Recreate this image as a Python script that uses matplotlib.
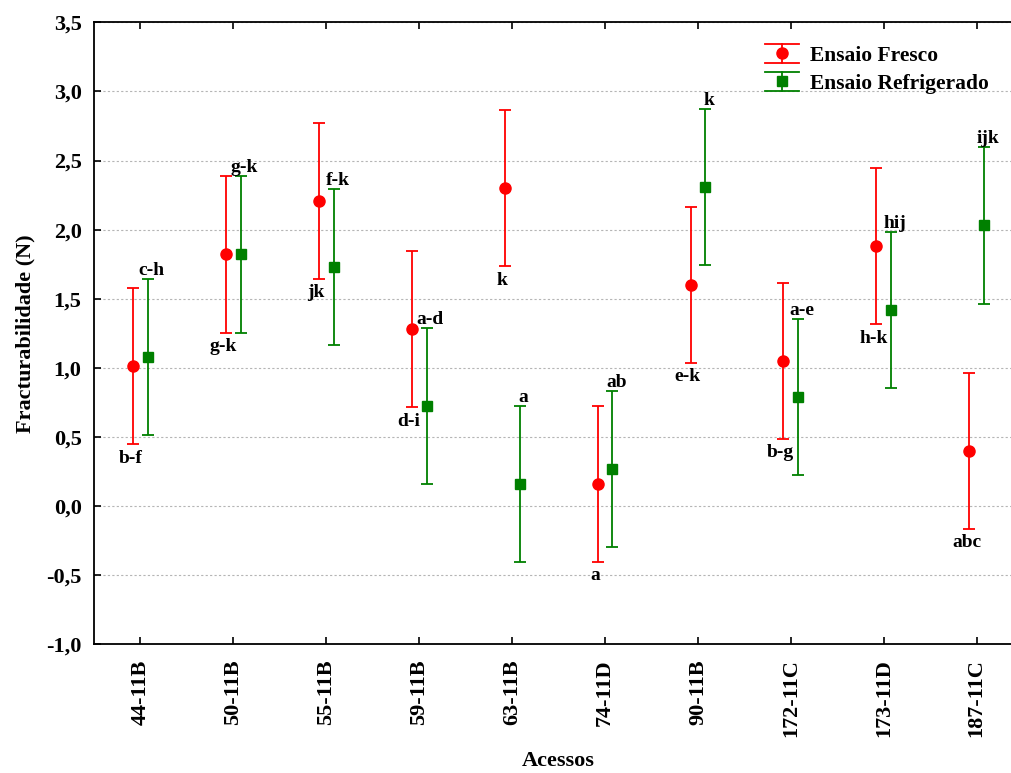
import matplotlib
matplotlib.use("Agg")
import matplotlib.pyplot as plt
from matplotlib.legend_handler import HandlerBase
from matplotlib.lines import Line2D
import numpy as np

acessos = ["44-11B", "50-11B", "55-11B", "59-11B", "63-11B",
           "74-11D", "90-11B", "172-11C", "173-11D", "187-11C"]

# means and half-width of the error bars
fresco_mean = [1.01, 1.82, 2.21, 1.28, 2.30, 0.16, 1.60, 1.05, 1.88, 0.40]
fresco_err = [0.565, 0.565, 0.565, 0.565, 0.565, 0.565, 0.565, 0.565, 0.565, 0.565]
refrig_mean = [1.08, 1.82, 1.73, 0.72, 0.16, 0.27, 2.31, 0.79, 1.42, 2.03]
refrig_err = [0.565, 0.565, 0.565, 0.565, 0.565, 0.565, 0.565, 0.565, 0.565, 0.565]

fresco_letters = ["b-f", "g-k", "jk", "d-i", "k", "a", "e-k", "b-g", "h-k", "abc"]
refrig_letters = ["c-h", "g-k", "f-k", "a-d", "a", "ab", "k", "a-e", "hij", "ijk"]

y_ticks = [-1.0, -0.5, 0.0, 0.5, 1.0, 1.5, 2.0, 2.5, 3.0, 3.5]
y_labels = ["-1,0", "-0,5", "0,0", "0,5", "1,0", "1,5", "2,0", "2,5", "3,0", "3,5"]

plt.rcParams["font.family"] = ["Liberation Serif", "DejaVu Serif"]
plt.rcParams["font.weight"] = "bold"


class StatHandler(HandlerBase):
    # legend key like statistica: wide caps top and bottom, marker in middle
    def create_artists(self, legend, orig, xd, yd, width, height, fontsize, trans):
        c = orig.get_color()
        x0, x1 = -xd, -xd + width
        y0, y1 = -yd, -yd + height
        xm, ym = (x0 + x1) / 2, (y0 + y1) / 2
        arts = [
            Line2D([x0, x1], [y1, y1], color=c, lw=1.3),
            Line2D([x0, x1], [y0, y0], color=c, lw=1.3),
            Line2D([xm, xm], [y0, y1], color=c, lw=1.3),
            Line2D([xm], [ym], marker=orig.get_marker(), color=c,
                   markersize=orig.get_markersize(), linestyle="none"),
        ]
        for a in arts:
            a.set_transform(trans)
        return arts


fig = plt.figure(figsize=(10.11, 7.73), dpi=100)
ax = fig.add_axes([0.093, 0.1669, 0.919, 0.8041])

x = np.arange(len(acessos))
red = "#FF0000"
green = "#008000"

ax.errorbar(x - 0.08, fresco_mean, yerr=fresco_err, fmt="o", color=red,
            ecolor=red, elinewidth=1.3, capsize=4, capthick=1.3,
            markersize=8, zorder=3)
ax.errorbar(x + 0.08, refrig_mean, yerr=refrig_err, fmt="s", color=green,
            ecolor=green, elinewidth=1.3, capsize=4, capthick=1.3,
            markersize=7.5, zorder=3)

# significance letters: fresco below lower cap, refrigerado above upper cap
for i in range(len(acessos)):
    lo = fresco_mean[i] - fresco_err[i]
    ax.annotate(fresco_letters[i], (x[i] - 0.11, lo), xytext=(0, -4),
                textcoords="offset points", ha="center", va="top",
                fontsize=14, fontweight="bold")
    hi = refrig_mean[i] + refrig_err[i]
    ax.annotate(refrig_letters[i], (x[i] + 0.12, hi), xytext=(0, 0),
                textcoords="offset points", ha="center", va="bottom",
                fontsize=14, fontweight="bold")

ax.set_xlim(-0.5, len(acessos) - 0.5)
ax.set_ylim(-1.0, 3.5)
ax.set_yticks(y_ticks)
ax.set_yticklabels(y_labels, fontsize=16, fontweight="bold")
ax.set_xticks(x)
ax.set_xticklabels(acessos, rotation=90, fontsize=16, fontweight="bold")

ax.tick_params(axis="y", direction="in", length=5, width=1.2, pad=9)
ax.tick_params(axis="x", direction="in", length=5, width=1.2, pad=11, top=True)

ax.yaxis.grid(True, color="#b5b5b5", linestyle=(0, (2, 2)), linewidth=0.8)
ax.set_axisbelow(True)
for s in ax.spines.values():
    s.set_linewidth(1.3)
ax.spines["right"].set_visible(False)

ax.set_xlabel("Acessos", fontsize=16, fontweight="bold", labelpad=10)
ax.set_ylabel("Fracturabilidade (N)", fontsize=16, fontweight="bold", labelpad=8)

h1 = Line2D([], [], color=red, marker="o", markersize=8)
h2 = Line2D([], [], color=green, marker="s", markersize=7.5)
ax.legend([h1, h2], ["Ensaio Fresco", "Ensaio Refrigerado"],
          handler_map={Line2D: StatHandler()},
          loc="upper left", bbox_to_anchor=(765 / 1011, 1 - 44 / 773),
          bbox_transform=fig.transFigure, frameon=False,
          fontsize=15.5, handlelength=1.6, handleheight=0.95,
          handletextpad=0.5, labelspacing=0.3,
          borderpad=0, borderaxespad=0)

fig.savefig("out.png", dpi=100)
